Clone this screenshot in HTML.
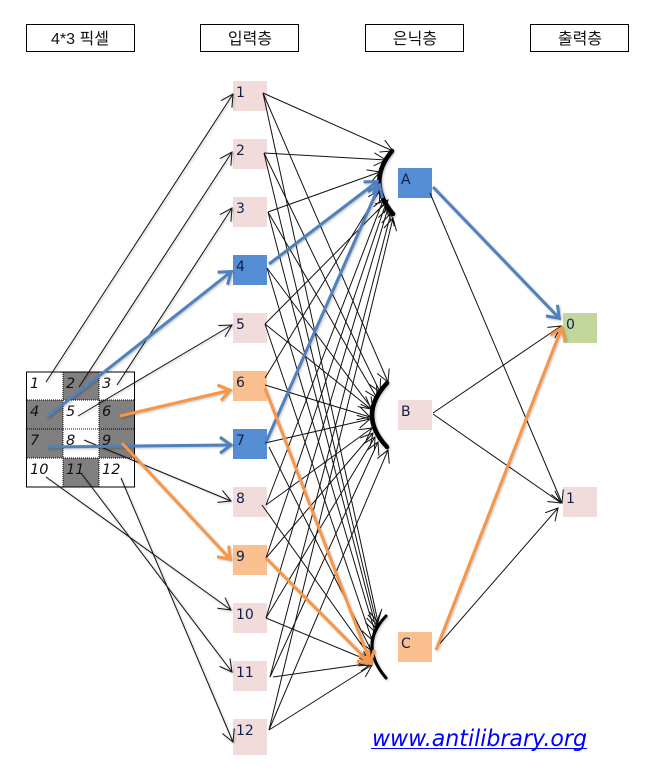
<!DOCTYPE html>
<html><head><meta charset="utf-8"><style>
html,body{margin:0;padding:0;background:#fff}
svg{display:block}
.k{font-family:"Liberation Sans","Noto Sans CJK KR",sans-serif;font-size:16px;fill:#111;text-anchor:middle}
.n{font-family:"DejaVu Sans",sans-serif;font-size:14px;fill:#10204a}
.p{font-family:"DejaVu Sans",sans-serif;font-size:14.500px;font-style:italic;fill:#111}
.t line{stroke:#111;stroke-width:1;marker-end:url(#a)}
.bl{stroke:#4f81bd;stroke-width:3;marker-end:url(#b);fill:none}
.or{stroke:#f79646;stroke-width:3;marker-end:url(#o);fill:none}
.arc{fill:none;stroke:#000;stroke-width:4.500;stroke-linecap:round}
.sh{filter:drop-shadow(1.500px 1.500px 1px rgba(0,0,0,.25))}
</style></head><body>
<svg width="654" height="778" viewBox="0 0 654 778" xmlns="http://www.w3.org/2000/svg">
<defs>
<marker id="a" markerUnits="userSpaceOnUse" markerWidth="30" markerHeight="30" refX="15" refY="15" orient="auto"><path d="M3,8.500L15,15L3,21.500" fill="none" stroke="#111" stroke-width="1"/></marker>
<marker id="b" markerUnits="userSpaceOnUse" markerWidth="34" markerHeight="34" refX="17" refY="17" orient="auto"><path d="M5,9L16,17L5,25" fill="none" stroke="#4f81bd" stroke-width="3"/></marker>
<marker id="o" markerUnits="userSpaceOnUse" markerWidth="34" markerHeight="34" refX="17" refY="17" orient="auto"><path d="M5,9L16,17L5,25" fill="none" stroke="#f79646" stroke-width="3"/></marker>
</defs>
<rect width="654" height="778" fill="#fff"/>

<g fill="#fff" stroke="#000" stroke-width="1">
<rect x="26.500" y="24.500" width="108" height="27"/>
<rect x="200.500" y="24.500" width="98" height="27"/>
<rect x="365.500" y="24.500" width="98" height="27"/>
<rect x="530.500" y="24.500" width="98" height="27"/>
</g>
<text class="k" x="80" y="44">4*3 픽셀</text>
<text class="k" x="250" y="44">입력층</text>
<text class="k" x="415" y="44">은닉층</text>
<text class="k" x="580" y="44">출력층</text>

<g fill="#808080">
<rect x="63" y="372" width="36" height="28"/>
<rect x="27" y="400" width="36" height="29"/>
<rect x="99" y="400" width="35" height="29"/>
<rect x="27" y="429" width="36" height="29"/>
<rect x="99" y="429" width="35" height="29"/>
<rect x="63" y="458" width="36" height="29"/>
</g>
<g stroke="#000" stroke-width="1" stroke-dasharray="1 1" fill="none">
<path d="M63 372V487M99 372V487M27 400H134M27 429H134M27 458H134"/>
</g>
<rect x="26.500" y="372" width="108" height="115" fill="none" stroke="#000" stroke-width="1"/>
<g class="p">
<text x="30" y="388">1</text><text x="66" y="388">2</text><text x="102" y="388">3</text>
<text x="30" y="416">4</text><text x="66" y="416">5</text><text x="102" y="416">6</text>
<text x="30" y="445">7</text><text x="66" y="445">8</text><text x="102" y="445">9</text>
<text x="30" y="474">10</text><text x="66" y="474">11</text><text x="102" y="474">12</text>
</g>

<g fill="#f2dcdb">
<rect x="233" y="81" width="34" height="30"/>
<rect x="233" y="139" width="34" height="30"/>
<rect x="233" y="197" width="34" height="30"/>
<rect x="233" y="313" width="34" height="30"/>
<rect x="233" y="487" width="34" height="30"/>
<rect x="233" y="603" width="34" height="30"/>
<rect x="233" y="661" width="34" height="30"/>
<rect x="233" y="719" width="34" height="36"/>
<rect x="398" y="400" width="34" height="30"/>
<rect x="563" y="487" width="34" height="30"/>
</g>
<g fill="#558ed5">
<rect x="233" y="255" width="34" height="30"/>
<rect x="233" y="429" width="34" height="30"/>
<rect x="398" y="168" width="34" height="30"/>
</g>
<g fill="#fac090">
<rect x="233" y="371" width="34" height="30"/>
<rect x="233" y="545" width="34" height="30"/>
<rect x="398" y="632" width="34" height="30"/>
</g>
<rect x="563" y="313" width="34" height="30" fill="#c3d69b"/>

<g class="sh t">
<line x1="46" y1="382" x2="233" y2="94"/>
<line x1="79" y1="387" x2="232" y2="152"/>
<line x1="117" y1="385" x2="232" y2="208"/>
<line x1="78" y1="416" x2="232" y2="325"/>
<line x1="84" y1="440" x2="231" y2="501"/>
<line x1="46" y1="477" x2="231" y2="610"/>
<line x1="81" y1="473" x2="232" y2="672"/>
<line x1="121" y1="478" x2="233" y2="742"/>
</g>

<g class="t">
<line x1="263" y1="93" x2="393" y2="151"/>
<line x1="264" y1="153" x2="386" y2="160"/>
<line x1="268" y1="212" x2="380" y2="172"/>
<line x1="265" y1="324" x2="388" y2="200"/>
<line x1="265" y1="378" x2="380" y2="190"/>
<line x1="266" y1="505" x2="384" y2="198"/>
<line x1="266" y1="558" x2="386" y2="203"/>
<line x1="266" y1="618" x2="388" y2="208"/>
<line x1="270" y1="677" x2="391" y2="213"/>
<line x1="269" y1="730" x2="393" y2="218"/>

<line x1="263" y1="93" x2="388" y2="382"/>
<line x1="264" y1="153" x2="380" y2="392"/>
<line x1="268" y1="212" x2="377" y2="398"/>
<line x1="267" y1="268" x2="373" y2="410"/>
<line x1="265" y1="324" x2="371" y2="409"/>
<line x1="265" y1="385" x2="370" y2="417"/>
<line x1="265" y1="443" x2="370" y2="419"/>
<line x1="266" y1="505" x2="372" y2="428"/>
<line x1="266" y1="558" x2="373" y2="433"/>
<line x1="266" y1="618" x2="375" y2="437"/>
<line x1="270" y1="677" x2="378" y2="442"/>
<line x1="269" y1="730" x2="388" y2="450"/>

<line x1="263" y1="93" x2="378" y2="622"/>
<line x1="264" y1="153" x2="377" y2="625"/>
<line x1="268" y1="212" x2="376" y2="628"/>
<line x1="267" y1="268" x2="375" y2="632"/>
<line x1="265" y1="324" x2="372" y2="640"/>
<line x1="269" y1="447" x2="371" y2="650"/>
<line x1="262" y1="505" x2="371" y2="658"/>
<line x1="266" y1="618" x2="372" y2="662"/>
<line x1="273" y1="677" x2="372" y2="663"/>
<line x1="269" y1="730" x2="372" y2="665"/>

<line x1="430" y1="193" x2="562" y2="503"/>
<line x1="433" y1="413" x2="561" y2="326"/>
<line x1="433" y1="414" x2="561" y2="503"/>
<line x1="436" y1="648" x2="558" y2="508"/>
</g>

<g class="sh">
<path class="arc" d="M392 151Q366 182 393 214"/>
<path class="arc" d="M387 383Q357 415 387 447"/>
<path class="arc" d="M386 616Q358 645 386 678" style="stroke-width:3"/>
</g>

<g class="sh">
<line class="bl" x1="47" y1="417" x2="232" y2="271"/>
<line class="bl" x1="47" y1="447" x2="232" y2="445"/>
<line class="bl" x1="269" y1="264" x2="378" y2="181"/>
<line class="bl" x1="266" y1="442" x2="380" y2="184"/>
<line class="bl" x1="433" y1="187" x2="560" y2="319"/>
<line class="or" x1="120" y1="416" x2="231" y2="390"/>
<line class="or" x1="122" y1="443" x2="231" y2="560"/>
<line class="or" x1="265" y1="388" x2="371" y2="664"/>
<line class="or" x1="266" y1="558" x2="371" y2="664"/>
<line class="or" x1="436" y1="650" x2="562" y2="327"/>
</g>

<g class="n">
<text x="236" y="97">1</text><text x="236" y="155">2</text><text x="236" y="213">3</text>
<text x="236" y="271">4</text><text x="236" y="329">5</text><text x="236" y="387">6</text>
<text x="236" y="445">7</text><text x="236" y="503">8</text><text x="236" y="561">9</text>
<text x="236" y="619">10</text><text x="236" y="677">11</text><text x="236" y="735">12</text>
<text x="401" y="184">A</text><text x="401" y="416">B</text><text x="401" y="648">C</text>
<text x="566" y="329">0</text><text x="566" y="503">1</text>
</g>

<text x="372" y="746" font-family="'DejaVu Sans',sans-serif" font-size="23" font-style="italic" fill="#0000ff" textLength="215" lengthAdjust="spacingAndGlyphs">www.antilibrary.org</text>
<rect x="371" y="748" width="216" height="1" fill="#0000ff"/>
</svg>
</body></html>
